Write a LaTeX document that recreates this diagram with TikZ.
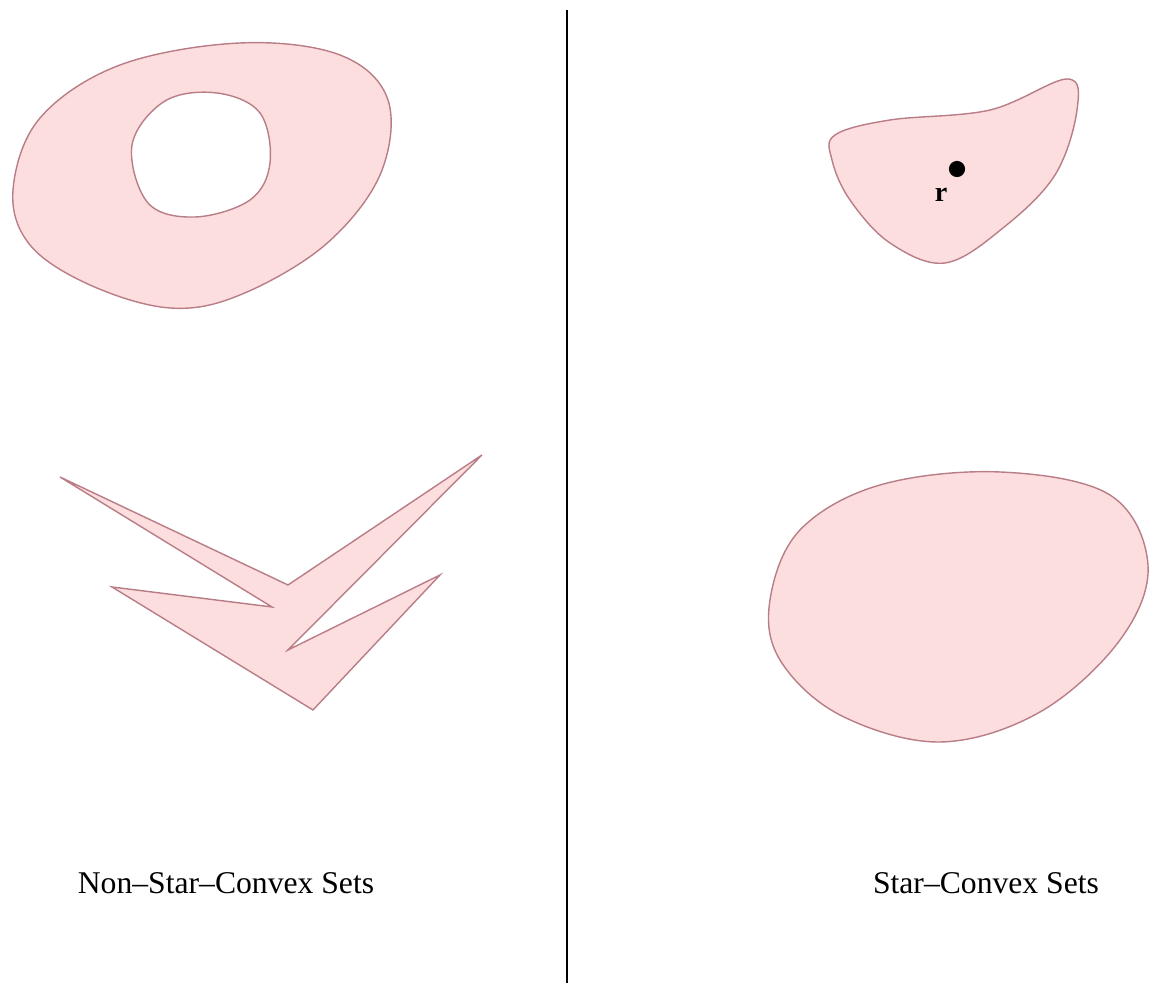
\documentclass[tikz,border=0pt]{standalone}
\usepackage{fontspec}
\setmainfont{Liberation Serif}
\usepackage{tikz}
\usetikzlibrary{positioning}

\definecolor{setpink}{RGB}{253,222,222}
\definecolor{setedge}{RGB}{185,125,135}

\begin{document}
\begin{tikzpicture}[
  x=0.01cm, y=-0.01cm,
  setshape/.style={fill=setpink, draw=setedge, line width=0.4pt},
  caption/.style={font=\fontsize{9}{11}\selectfont, inner sep=0pt},
  pt/.style={circle, fill=black, inner sep=0pt, minimum size=4.6pt}]
  \useasboundingbox (0,0) rectangle (1153,983);
  % ring with a hole
  \path[setshape, even odd rule]
    plot[smooth cycle, tension=0.6] coordinates {(13,190) (40,118) (120,65) (240,43) (340,55)
      (388,100) (380,175) (325,245) (240,295) (170,308) (90,285) (30,245)}
    plot[smooth cycle, tension=0.6] coordinates {(132,145) (165,101) (217,93) (260,113)
      (270,163) (250,200) (195,217) (148,203)};
  % arrow-like polygon
  \path[setshape] (60,477) -- (288,585) -- (482,455) -- (288,650) -- (440,575)
    -- (313,710) -- (112,587) -- (272,607) -- cycle;
  % kidney shape
  \path[setshape] plot[smooth cycle, tension=0.6] coordinates {(835,135) (890,120) (990,110)
    (1067,79) (1077,110) (1055,175) (1003,228) (945,263) (890,243) (850,200) (832,160)};
  % egg shape
  \path[setshape] plot[smooth cycle, tension=0.6] coordinates {(1000,472) (1110,495) (1148,565)
    (1120,640) (1040,712) (940,742) (840,715) (780,660) (770,600) (800,530) (880,485)};
  \node[pt] (r) at (957,169) {};
  \node[font=\fontsize{8}{9}\selectfont\bfseries, inner sep=0pt] (rlab) at (941,195) {r};
  % divider
  \coordinate (top) at (567,10);
  \coordinate (bot) at (567,983);
  \draw[line width=0.7pt] (top) -- (bot);
  \node[caption] (nonstar) at (226,883) {Non–Star–Convex Sets};
  \node[caption] (star) at (986,883) {Star–Convex Sets};
\end{tikzpicture}
\end{document}
